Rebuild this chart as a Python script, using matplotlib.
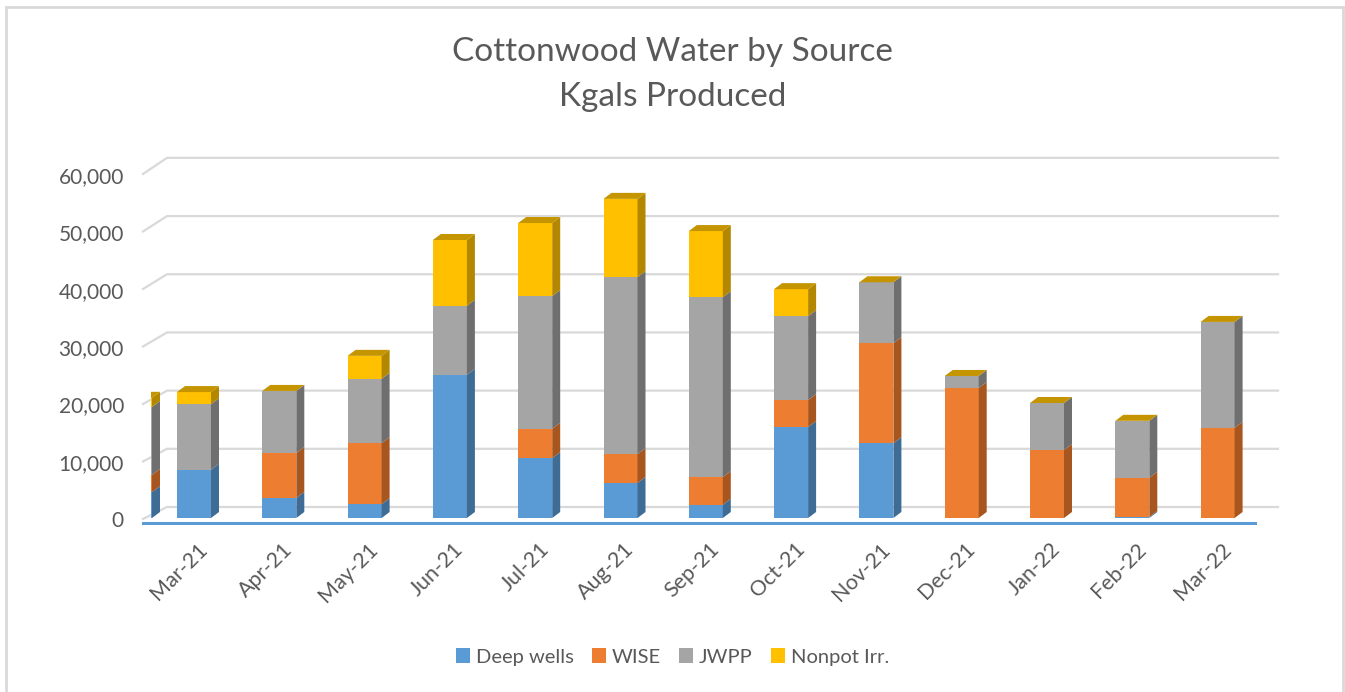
import matplotlib.pyplot as plt
from matplotlib.patches import Polygon, Rectangle
from matplotlib.lines import Line2D

plt.rcParams['font.family'] = ['Lato', 'DejaVu Sans']

months = ['Mar-21', 'Apr-21', 'May-21', 'Jun-21', 'Jul-21', 'Aug-21', 'Sep-21',
          'Oct-21', 'Nov-21', 'Dec-21', 'Jan-22', 'Feb-22', 'Mar-22']
deep_wells = [8400, 3500, 2400, 24900, 10400, 6100, 2300, 15800, 13000, 0, 0, 200, 0]
wise = [0, 7800, 10600, 0, 5100, 5000, 4800, 4700, 17400, 22600, 11800, 6800, 15700]
jwpp = [11400, 10800, 11200, 12000, 23100, 30800, 31300, 14600, 10600, 2100, 8200, 9900, 18400]
nonpot = [2100, 0, 4000, 11450, 12700, 13600, 11500, 4700, 0, 0, 0, 0, 0]

# partly hidden bar at the left edge of the plot area (clipped in the original)
prev_bar = [4500, 3000, 11800, 1600]

series = ['Deep wells', 'WISE', 'JWPP', 'Nonpot Irr.']
front = ['#5B9BD5', '#ED7D31', '#A5A5A5', '#FFC000']
side = ['#3E6C95', '#A8561F', '#6F6F6F', '#B38700']
top_col = '#C49500'

fig = plt.figure(figsize=(13.45, 6.92), dpi=100)
W, H = 1345, 692
# axes placed in pixel terms
left_px, right_px, top_px, bot_px = 151, 1290, 150, 530
ax = fig.add_axes([left_px / W, 1 - bot_px / H, (right_px - left_px) / W, (bot_px - top_px) / H])

px_per_cat = 85.3
x0_px = 194
def xd(px):
    return (px - x0_px) / px_per_cat
yscale = 0.00575
y0_px = 518
def yd(px):
    return (y0_px - px) / yscale

ax.set_xlim(xd(left_px), xd(right_px))
ax.set_ylim(yd(bot_px), yd(top_px))
ax.axis('off')

bw = 34 / px_per_cat
dx = 8 / px_per_cat
dy = 6 / yscale

# back gridlines with the diagonal wall edge
for v in range(0, 70000, 10000):
    yb = v * 1.012 + 11 / yscale
    yf = v - 1 / yscale
    ax.add_line(Line2D([xd(143), xd(167), xd(1278)], [yf, yb, yb], color='#D9D9D9',
                       lw=1.6, clip_on=False, zorder=1))
    ax.text(xd(124), v * 0.997 - 3 / yscale, f'{v:,}', ha='right', va='center',
            fontsize=15, color='#595959')

# floor edge
ax.add_line(Line2D([xd(143), xd(1255)], [yd(523), yd(523)], color='#5B9BD5', lw=2.2,
                   clip_on=False, zorder=2))


def draw_bar(xc, vals):
    base = 0
    for k, v in enumerate(vals):
        if v <= 0:
            continue
        ax.add_patch(Rectangle((xc - bw / 2, base), bw, v, facecolor=front[k],
                               edgecolor='none', zorder=3))
        xr = xc + bw / 2
        ax.add_patch(Polygon([(xr, base), (xr + dx, base + dy), (xr + dx, base + v + dy),
                              (xr, base + v)], closed=True, facecolor=side[k],
                             edgecolor='none', zorder=3))
        base += v
    xl = xc - bw / 2
    xr = xc + bw / 2
    ax.add_patch(Polygon([(xl, base), (xl + dx, base + dy), (xr + dx, base + dy), (xr, base)],
                         closed=True, facecolor=top_col, edgecolor='none', zorder=3))


draw_bar(xd(152) - bw / 2, prev_bar)
for i in range(len(months)):
    draw_bar(i, [deep_wells[i], wise[i], jwpp[i], nonpot[i]])

for i, m in enumerate(months):
    ax.text(i + 0.04, yd(539), m, rotation=45, ha='right', va='top', fontsize=15.5,
            color='#595959', rotation_mode='anchor')

fig.text(0.5, 1 - 52 / H, 'Cottonwood Water by Source', ha='center', va='center',
         fontsize=24, color='#595959')
fig.text(0.5, 1 - 97 / H, 'Kgals Produced', ha='center', va='center',
         fontsize=24, color='#595959')

handles = [Rectangle((0, 0), 1, 1, facecolor=c) for c in front]
fig.legend(handles, series, loc='center', bbox_to_anchor=(0.5, 1 - 657 / H), ncol=4,
           frameon=False, fontsize=14.5, handlelength=0.7, handleheight=0.7,
           handletextpad=0.3, columnspacing=0.9, labelcolor='#595959')

# chart border
fig.add_artist(Rectangle((6 / W, -0.01), (1343 - 6) / W, 1 - 7 / H + 0.01, transform=fig.transFigure,
                         fill=False, edgecolor='#D9D9D9', lw=2))

fig.savefig('out.png', dpi=100)
